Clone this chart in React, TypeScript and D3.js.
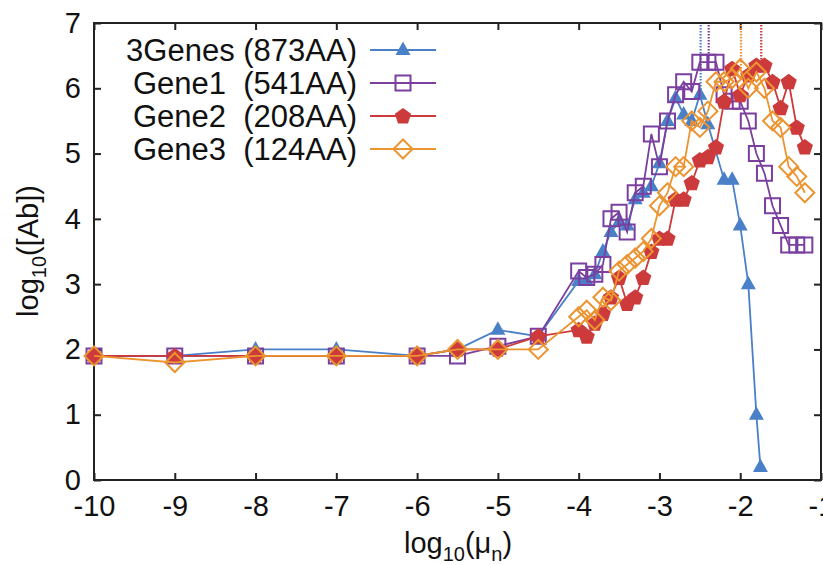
import React, { useEffect, useRef } from "react";
import * as d3 from "d3";

// x positions (log10 mu_n)
const xLow = [-10, -9, -8, -7, -6, -5.5, -5, -4.5];
const xDense = [
  -4.0, -3.9, -3.8, -3.7, -3.6, -3.5, -3.4, -3.3, -3.2, -3.1, -3.0, -2.9, -2.8, -2.7, -2.6,
  -2.5, -2.4, -2.3, -2.2, -2.1, -2.0, -1.9, -1.8, -1.7, -1.6, -1.5, -1.4, -1.3, -1.2,
];
const xBlueDense = [
  -4.0, -3.9, -3.8, -3.7, -3.6, -3.5, -3.4, -3.3, -3.2, -3.1, -3.0, -2.9, -2.8, -2.7, -2.6,
  -2.5, -2.4, -2.2, -2.1, -2.0, -1.9, -1.8, -1.75,
];

// log10([Ab]) values
const yGenes3 = [1.9, 1.9, 2.0, 2.0, 1.9, 2.0, 2.3, 2.2,
  3.05, 3.05, 3.15, 3.5, 3.8, 3.95, 3.9, 4.3, 4.4, 4.5, 4.85, 5.5, 5.85, 5.6, 5.5,
  5.9, 5.45, 4.6, 4.6, 3.9, 3.0, 1.0, 0.2];
const yGene1 = [1.9, 1.9, 1.9, 1.9, 1.9, 1.9, 2.05, 2.2,
  3.2, 3.1, 3.15, 3.3, 4.0, 4.1, 3.8, 4.4, 4.5, 5.3, 4.8, 5.5, 5.9, 6.1, 5.95,
  6.4, 6.4, 6.4, 5.9, 5.8, 5.8, 5.5, 5.0, 4.7, 4.2, 3.9, 3.6, 3.6, 3.6];
const yGene2 = [1.9, 1.9, 1.9, 1.9, 1.9, 2.0, 2.0, 2.2,
  2.3, 2.2, 2.4, 2.55, 2.8, 3.1, 2.7, 2.8, 3.1, 3.5, 3.7, 3.7, 4.3, 4.3, 4.55,
  4.9, 4.95, 5.1, 5.8, 6.3, 5.9, 6.2, 6.35, 6.35, 6.1, 5.7, 6.1, 5.4, 5.1];
const yGene3 = [1.9, 1.8, 1.9, 1.9, 1.9, 2.0, 2.0, 2.0,
  2.5, 2.6, 2.45, 2.8, 2.75, 3.2, 3.3, 3.4, 3.5, 3.7, 4.2, 4.4, 4.8, 4.8, 5.5,
  5.4, 5.65, 6.1, 6.1, 6.15, 6.3, 6.0, 6.25, 6.0, 5.5, 5.4, 4.8, 4.65, 4.4];

const seriesNames = ["3Genes (873AA)", "Gene1\u00a0\u00a0(541AA)", "Gene2\u00a0\u00a0(208AA)", "Gene3\u00a0\u00a0(124AA)"];
const seriesColors = ["#4a80c8", "#7b3f9f", "#cc3a3c", "#ec9430"];
const seriesMarkers = ["triangle", "square", "pentagon", "diamond"];

// dotted markers at the peak of each curve
const peakX = [-2.49, -2.39, -1.74, -1.99];
const peakY = [5.95, 6.45, 6.35, 6.3];

const xTicks = [-10, -9, -8, -7, -6, -5, -4, -3, -2, -1];
const yTicks = [0, 1, 2, 3, 4, 5, 6, 7];

function markerPath(kind: string) {
  if (kind === "triangle") return "M0,-8.5L7.5,5L-7.5,5Z";
  if (kind === "square") return "M-7.5,-7.5H7.5V7.5H-7.5Z";
  if (kind === "diamond") return "M0,-9.5L9.5,0L0,9.5L-9.5,0Z";
  const pts = d3.range(5).map((i) => {
    const a = -Math.PI / 2 + (i * 2 * Math.PI) / 5;
    return [8.5 * Math.cos(a), 8.5 * Math.sin(a) + 0.5];
  });
  return "M" + pts.map((p) => p.join(",")).join("L") + "Z";
}

export default function App() {
  const ref = useRef<SVGSVGElement>(null);

  useEffect(() => {
    const svg = d3.select(ref.current);
    svg.selectAll("*").remove();
    const font = "'Liberation Sans', Arial, sans-serif";

    const left = 94, right = 821, top = 23, bottom = 480;
    const x = d3.scaleLinear().domain([-10, -1]).range([left, right]);
    const y = d3.scaleLinear().domain([0, 7]).range([bottom, top]);

    const series = [
      { xs: xLow.concat(xBlueDense), ys: yGenes3 },
      { xs: xLow.concat(xDense), ys: yGene1 },
      { xs: xLow.concat(xDense), ys: yGene2 },
      { xs: xLow.concat(xDense), ys: yGene3 },
    ];

    // axes with inward ticks
    const fmt = (d: any) => String(d);
    const gx = svg.append("g").attr("transform", `translate(0,${bottom})`)
      .call(d3.axisBottom(x).tickValues(xTicks).tickSize(-7).tickPadding(15).tickFormat(fmt));
    const gxTop = svg.append("g").attr("transform", `translate(0,${top})`)
      .call(d3.axisTop(x).tickValues(xTicks).tickSize(-7).tickFormat(() => ""));
    const gy = svg.append("g").attr("transform", `translate(${left},0)`)
      .call(d3.axisLeft(y).tickValues(yTicks).tickSize(-7).tickPadding(13).tickFormat(fmt));
    const gyRight = svg.append("g").attr("transform", `translate(${right},0)`)
      .call(d3.axisRight(y).tickValues(yTicks).tickSize(-7).tickFormat(() => ""));
    [gx, gxTop, gy, gyRight].forEach((g) => {
      g.select(".domain").remove();
      g.selectAll("line").attr("stroke", "#222").attr("stroke-width", 2);
      g.selectAll("text").attr("font-family", font).attr("font-size", 29).attr("fill", "#111");
    });

    svg.append("rect").attr("x", left).attr("y", top)
      .attr("width", right - left).attr("height", bottom - top)
      .attr("fill", "none").attr("stroke", "#222").attr("stroke-width", 2);

    series.forEach((s, i) => {
      const color = seriesColors[i];
      const kind = seriesMarkers[i];
      const filled = kind === "triangle" || kind === "pentagon";
      const pts = s.xs.map((v, j) => [x(v), y(s.ys[j])] as [number, number]);
      const g = svg.append("g");
      g.append("path").attr("d", d3.line()(pts)).attr("fill", "none")
        .attr("stroke", color).attr("stroke-width", 1.8);
      g.append("line")
        .attr("x1", x(peakX[i])).attr("x2", x(peakX[i]))
        .attr("y1", top + 2).attr("y2", y(peakY[i]))
        .attr("stroke", color).attr("stroke-width", 2.2).attr("stroke-dasharray", "1.5,1.5");
      g.selectAll("path.m").data(pts).enter().append("path").attr("class", "m")
        .attr("d", markerPath(kind))
        .attr("transform", (p) => `translate(${p[0]},${p[1]})`)
        .attr("fill", filled ? color : "none")
        .attr("stroke", color).attr("stroke-width", filled ? 0 : 2);

      // legend entry
      const ly = 50 + i * 33;
      svg.append("text").attr("x", 357).attr("y", ly).attr("dy", "0.35em")
        .attr("text-anchor", "end").attr("font-family", font).attr("font-size", 31)
        .attr("fill", "#111").text(seriesNames[i]);
      svg.append("line").attr("x1", 370).attr("x2", 436).attr("y1", ly).attr("y2", ly)
        .attr("stroke", color).attr("stroke-width", 1.8);
      svg.append("path").attr("d", markerPath(kind))
        .attr("transform", `translate(403,${ly})`)
        .attr("fill", filled ? color : "none")
        .attr("stroke", color).attr("stroke-width", filled ? 0 : 2);
    });

    // axis titles
    const xt = svg.append("text").attr("x", 458).attr("y", 553).attr("text-anchor", "middle")
      .attr("font-family", font).attr("font-size", 29).attr("fill", "#111");
    xt.append("tspan").text("log");
    xt.append("tspan").attr("font-size", 20).attr("dy", 8).text("10");
    xt.append("tspan").attr("dy", -8).text("(\u03bc");
    xt.append("tspan").attr("font-size", 20).attr("dy", 8).text("n");
    xt.append("tspan").attr("dy", -8).text(")");

    const yt = svg.append("text").attr("transform", "translate(38,251) rotate(-90)")
      .attr("text-anchor", "middle")
      .attr("font-family", font).attr("font-size", 29).attr("fill", "#111");
    yt.append("tspan").text("log");
    yt.append("tspan").attr("font-size", 20).attr("dy", 8).text("10");
    yt.append("tspan").attr("dy", -8).text("([Ab])");
  }, []);

  return (
    <svg ref={ref} width={823} height={565}
      style={{ position: "absolute", left: 0, top: 0, background: "#fff" }} />
  );
}
